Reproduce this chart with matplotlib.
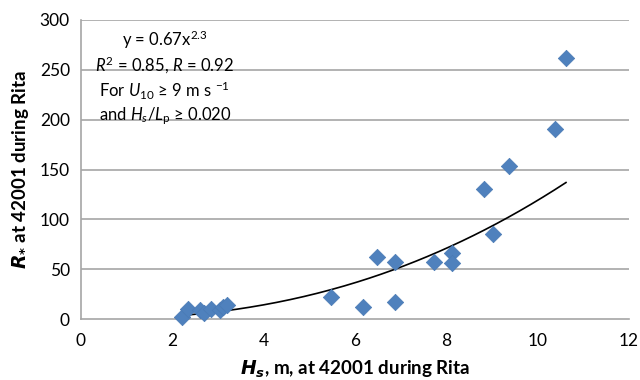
import matplotlib.pyplot as plt
import numpy as np

plt.rcParams['font.family'] = ['Lato', 'DejaVu Sans']
plt.rcParams['mathtext.fontset'] = 'custom'
plt.rcParams['mathtext.rm'] = 'Lato'
plt.rcParams['mathtext.it'] = 'Lato:italic'

# Hs (m) and R* at buoy 42001 during Rita
hs = [2.22, 2.35, 2.6, 2.7, 2.85, 3.05, 3.1, 3.2,
      5.47, 6.17, 6.48, 6.88, 6.88, 7.73, 8.12, 8.12,
      8.82, 9.02, 9.37, 10.38, 10.62]
r_star = [2, 10, 9, 6, 10, 9, 12, 14,
          22, 12, 62, 57, 17, 57, 66, 56,
          130, 85, 154, 191, 262]

# power-law trend line (as drawn on the chart)
trend_a = 0.57
trend_b = 2.32

xticks = [0, 2, 4, 6, 8, 10, 12]
yticks = [0, 50, 100, 150, 200, 250, 300]

fig = plt.figure(figsize=(6.4, 3.8), dpi=100)
ax = fig.add_axes([81 / 640, 61 / 380, 548 / 640, 299 / 380])

grid_col = '#a6a6a6'
for yv in yticks[1:]:
    ax.axhline(yv, color=grid_col, linewidth=1.2, zorder=1)

x_fit = np.linspace(min(hs), max(hs), 200)
ax.plot(x_fit, trend_a * x_fit ** trend_b, color='black', linewidth=1.2, zorder=3)

ax.scatter(hs, r_star, marker='D', s=70, color='#4f81bd', edgecolors='#4a7ab5',
           linewidths=0.5, zorder=4, clip_on=False)

ax.set_xlim(0, 12)
ax.set_ylim(0, 300)
ax.set_xticks(xticks)
ax.set_yticks(yticks)
ax.tick_params(length=0, labelsize=12.5, pad=8)
ax.tick_params(axis='x', pad=10)

for s in ['top', 'right']:
    ax.spines[s].set_visible(False)
for s in ['left', 'bottom']:
    ax.spines[s].set_color(grid_col)
    ax.spines[s].set_linewidth(1.2)

ax.set_xlabel(r'$\mathbfit{H}_{\mathbfit{s}}$, m, at 42001 during Rita',
              fontsize=13.5, fontweight='bold', labelpad=7,
              math_fontfamily='dejavusans')
ax.set_ylabel(r'$\mathbfit{R}_{\mathbf{*}}$ at 42001 during Rita',
              fontsize=13.5, fontweight='bold', labelpad=6,
              math_fontfamily='dejavusans')

txt = ('y = 0.67x$^{2.3}$\n'
       '$R^2$ = 0.85, $R$ = 0.92\n'
       'For $U_{10}$ ≥ 9 m s $^{-1}$\n'
       'and $H_s$/$L_\\mathrm{p}$ ≥ 0.020')
ax.text(0.153, 0.97, txt, transform=ax.transAxes, ha='center', va='top',
        fontsize=12, linespacing=1.22, zorder=5)

fig.savefig('out.png', dpi=100)
